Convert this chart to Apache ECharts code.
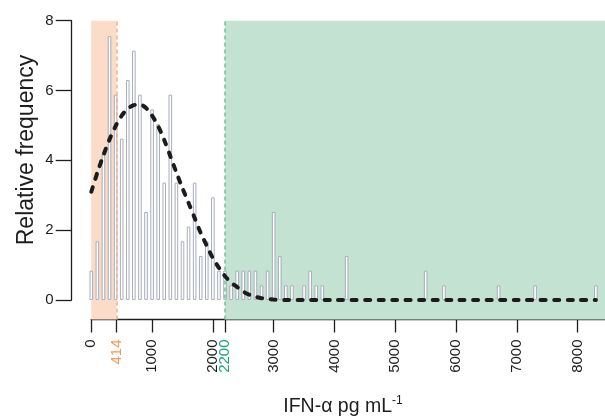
<!DOCTYPE html>
<html>
<head>
<meta charset="utf-8">
<script src="https://cdn.jsdelivr.net/npm/echarts@6/dist/echarts.min.js"></script>
<style>
html, body { margin: 0; padding: 0; background: #fff; }
#chart { width: 605px; height: 419px; }
</style>
</head>
<body>
<div id="chart"></div>
<script>
// histogram bins (bin centre, pg/mL) and relative frequency (%)
var binCenters = [0, 100, 200, 300, 400, 500, 600, 700, 800, 900,
                  1000, 1100, 1200, 1300, 1400, 1500, 1600, 1700, 1800, 1900,
                  2000, 2100, 2200, 2300, 2400, 2500, 2600, 2700, 2800, 2900,
                  3000, 3100, 3200, 3300, 3500, 3600, 3700, 3800, 4200,
                  5500, 5800, 6700, 7300, 8300];
var binFreq = [0.84, 1.68, 4.2, 7.56, 5.88, 4.62, 6.3, 7.14, 5.88, 2.52,
               5.46, 5.04, 3.36, 5.88, 3.36, 1.68, 2.1, 3.36, 1.26, 1.68,
               2.94, 0.84, 0.84, 0.42, 0.84, 0.84, 0.84, 0.84, 0.42, 0.84,
               2.52, 1.26, 0.42, 0.42, 0.42, 0.84, 0.42, 0.42, 1.26,
               0.84, 0.42, 0.42, 0.42, 0.42];

// fitted density (dashed curve)
var curveX = [0, 100, 200, 300, 400, 500, 600, 700, 800, 900,
              1000, 1100, 1200, 1300, 1400, 1500, 1600, 1700, 1800, 1900,
              2000, 2100, 2200, 2300, 2400, 2500, 2600, 2700, 2800, 2900,
              3000, 3200, 4000, 5000, 6000, 7000, 8000, 8300];
var curveY = [3.1, 3.65, 4.15, 4.6, 4.98, 5.28, 5.48, 5.58, 5.6, 5.5,
              5.28, 4.98, 4.58, 4.12, 3.65, 3.2, 2.78, 2.35, 1.92, 1.55,
              1.2, 0.92, 0.68, 0.5, 0.37, 0.24, 0.15, 0.09, 0.05, 0.03,
              0.01, 0, 0, 0, 0, 0, 0, 0];

var xTicks = [0, 414, 1000, 2000, 2200, 3000, 4000, 5000, 6000, 7000, 8000];
var lowCut = 414;
var highCut = 2200;
var xMax = 8450;

var FONT = "'Liberation Sans', Arial, sans-serif";
var AXIS = '#1e1e1e';
var TICK_FONT = 15;

var chart = echarts.init(document.getElementById('chart'));

chart.setOption({
    animation: false,
    backgroundColor: '#fff',
    grid: [
        { left: 85.22, right: 0, top: 20.7, bottom: 99.5 },   // data
        { left: 91.3, right: 0, top: 20.7, bottom: 99.5 },    // x axis
        { left: 71.7, width: 10, top: 20.7, bottom: 119.05 }  // y axis
    ],
    xAxis: [
        { gridIndex: 0, type: 'value', min: -100, max: xMax, show: false },
        {
            gridIndex: 1, type: 'value', min: 0, max: xMax,
            axisLine: { show: true, onZero: false, lineStyle: { color: AXIS, width: 1.3 } },
            axisTick: { show: true, customValues: xTicks, length: 13, lineStyle: { color: AXIS, width: 1.3 } },
            axisLabel: {
                customValues: xTicks, rotate: 90, margin: 20,
                color: AXIS, fontSize: TICK_FONT, fontFamily: FONT,
                formatter: function (v) {
                    if (v === lowCut) return '{lo|' + v + '}';
                    if (v === highCut) return '{hi|' + v + '}';
                    return String(v);
                },
                rich: {
                    lo: { color: '#f39a55', fontSize: TICK_FONT, fontFamily: FONT },
                    hi: { color: '#16a679', fontSize: TICK_FONT, fontFamily: FONT }
                }
            },
            splitLine: { show: false }
        },
        { gridIndex: 2, type: 'value', show: false }
    ],
    yAxis: [
        { gridIndex: 0, type: 'value', min: -0.56, max: 8, show: false },
        { gridIndex: 1, type: 'value', min: 0, max: 1, show: false },
        {
            gridIndex: 2, type: 'value', min: 0, max: 8, interval: 2, position: 'left',
            axisLine: { show: true, onZero: false, lineStyle: { color: AXIS, width: 1.3 } },
            axisTick: { show: true, length: 16, lineStyle: { color: AXIS, width: 1.3 } },
            axisLabel: { margin: 18, color: AXIS, fontSize: TICK_FONT, fontFamily: FONT },
            splitLine: { show: false }
        }
    ],
    series: [
        {
            // shaded ranges + cut-off lines
            type: 'line', xAxisIndex: 0, yAxisIndex: 0, data: [], z: 1, silent: true,
            markArea: {
                silent: true,
                data: [
                    [{ xAxis: 0, itemStyle: { color: '#fbdcc8' } }, { xAxis: lowCut }],
                    [{ xAxis: highCut, itemStyle: { color: '#c4e2d1' } }, { xAxis: xMax }]
                ]
            },
            markLine: {
                silent: true, symbol: 'none', label: { show: false },
                data: [
                    { xAxis: lowCut, lineStyle: { color: '#f6b083', type: [4, 3], width: 1.5 } },
                    { xAxis: highCut, lineStyle: { color: '#6fc29a', type: [4, 3], width: 1.5 } }
                ]
            }
        },
        {
            type: 'bar', xAxisIndex: 0, yAxisIndex: 0, z: 2,
            barWidth: 3.6,
            data: binCenters.map(function (x, i) { return [x, binFreq[i]]; }),
            itemStyle: { color: '#ffffff', borderColor: '#a7adbb', borderWidth: 1 }
        },
        {
            type: 'line', xAxisIndex: 0, yAxisIndex: 0, z: 5,
            data: curveX.map(function (x, i) { return [x, curveY[i]]; }),
            smooth: 0.3, symbol: 'none',
            lineStyle: { color: '#1b1b1b', width: 4, type: [5, 8.5], cap: 'round' }
        }
    ],
    graphic: [
        {
            type: 'text', x: 27, y: 150, rotation: Math.PI / 2,
            style: {
                text: 'Relative frequency', fill: AXIS,
                font: '23px ' + FONT, textAlign: 'center', textVerticalAlign: 'middle'
            }
        },
        {
            type: 'text', x: 343, y: 407,
            style: {
                text: 'IFN-α pg mL{sup|-1}', fill: AXIS,
                font: '19.5px ' + FONT, textAlign: 'center', textVerticalAlign: 'middle',
                lineHeight: 24,
                rich: { sup: { fontSize: 12, fontFamily: FONT, verticalAlign: 'top', lineHeight: 24, fill: AXIS } }
            }
        }
    ]
});
</script>
</body>
</html>
